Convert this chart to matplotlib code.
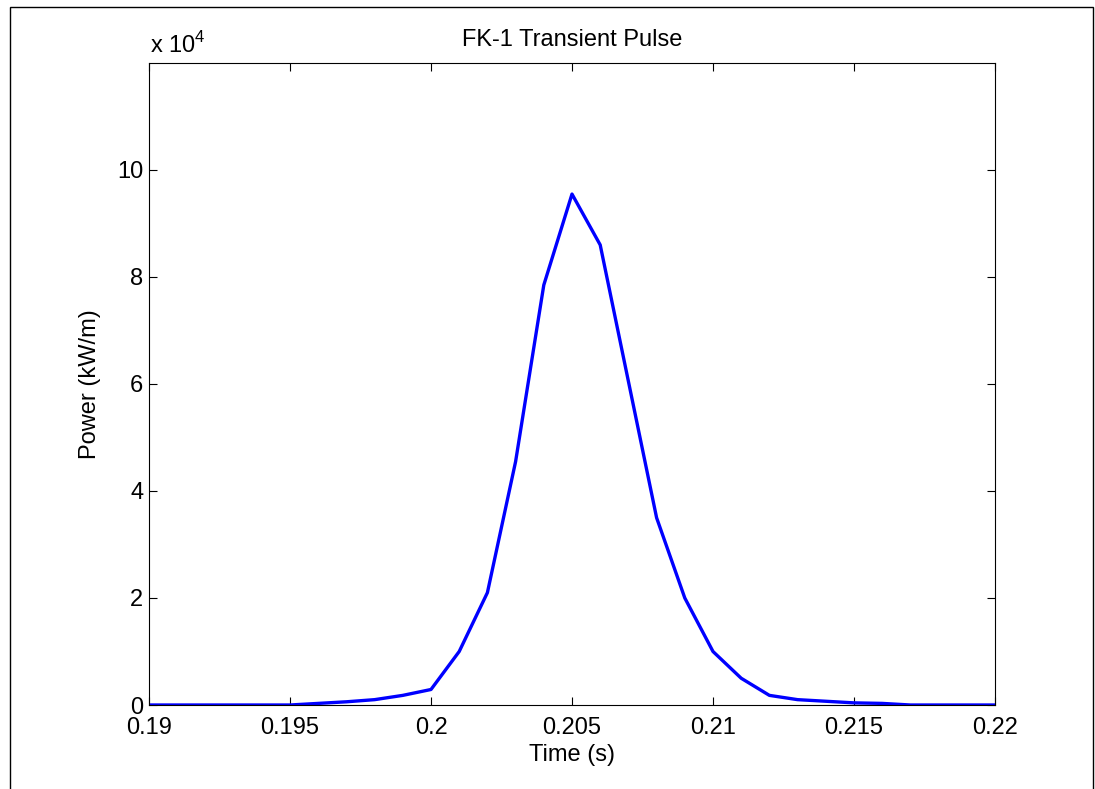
import matplotlib
matplotlib.use("Agg")
import matplotlib.pyplot as plt
from matplotlib.patches import Rectangle

# Temps (s) et puissance (kW/m)
temps = [0.190, 0.191, 0.192, 0.193, 0.194, 0.195, 0.196, 0.197, 0.198, 0.199,
         0.200, 0.201, 0.202, 0.203, 0.204, 0.205, 0.206, 0.207, 0.208, 0.209,
         0.210, 0.211, 0.212, 0.213, 0.214, 0.215, 0.216, 0.217, 0.218, 0.219, 0.220]
puissance = [0, 0, 0, 0, 0, 0, 300, 600, 1000, 1800,
             2900, 10000, 21000, 45500, 78500, 95500, 86000, 60500, 35000, 20000,
             10000, 5000, 1800, 1000, 700, 400, 300, 0, 0, 0, 0]

xticks = [0.19, 0.195, 0.2, 0.205, 0.21, 0.215, 0.22]
xtick_labels = ["0.19", "0.195", "0.2", "0.205", "0.21", "0.215", "0.22"]
yticks = [0, 20000, 40000, 60000, 80000, 100000]
ytick_labels = ["0", "2", "4", "6", "8", "10"]

plt.rcParams['font.family'] = ['Liberation Sans', 'DejaVu Sans']
plt.rcParams['mathtext.fontset'] = 'custom'
plt.rcParams['mathtext.rm'] = 'Liberation Sans'

taille = 17

fig = plt.figure(figsize=(10.95, 7.89), dpi=100)
ax = fig.add_axes([149 / 1095, 1 - 705 / 789, 846 / 1095, 642 / 789])

ax.plot(temps, puissance, color=(0, 0, 1), linewidth=2.4)

ax.set_xlim(0.19, 0.22)
ax.set_ylim(0, 120000)
ax.set_xticks(xticks)
ax.set_xticklabels(xtick_labels)
ax.set_yticks(yticks)
ax.set_yticklabels(ytick_labels)
ax.tick_params(direction='in', top=True, right=True, length=6, width=0.8,
               labelsize=taille)
ax.tick_params(axis='x', pad=9)
ax.tick_params(axis='y', pad=4)
for s in ax.spines.values():
    s.set_linewidth(0.8)

ax.set_title("FK-1 Transient Pulse", fontsize=taille, pad=12)
ax.set_xlabel("Time (s)", fontsize=taille, labelpad=3)
ax.set_ylabel("Power (kW/m)", fontsize=taille, labelpad=12)
fig.text(150 / 1095, 1 - 53 / 789, r"x 10$^{\mathrm{4}}$", fontsize=taille,
         ha='left', va='baseline')

# cadre autour de la figure
fig.patches.append(Rectangle((9.5 / 1095, -0.01), 1083 / 1095, 1 - 7 / 789 + 0.01,
                             transform=fig.transFigure, fill=False,
                             edgecolor='black', linewidth=1))

fig.savefig("out.png", dpi=100)
